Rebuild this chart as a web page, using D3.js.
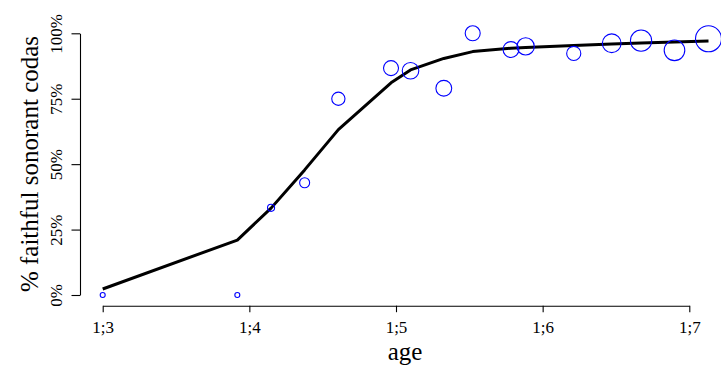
<!DOCTYPE html>
<html>
<head>
<meta charset="utf-8">
<script src="https://cdn.jsdelivr.net/npm/d3@7"></script>
<style>
  html, body { margin: 0; padding: 0; background: #fff; }
  svg { display: block; font-family: "Liberation Serif", "Times New Roman", serif; }
</style>
</head>
<body>
<svg id="chart" width="721" height="367"></svg>
<script>
// ---- data ----
// age in months (1;3 = 15 months -> stored as months past year 1)
const ageMonths = [3.00, 3.918, 4.148, 4.377, 4.607, 4.966, 5.099, 5.326, 5.523, 5.784, 5.884, 6.212, 6.471, 6.671, 6.899, 7.131];
const pctFaithful = [0, 0, 33.3, 42.9, 75, 86.7, 85.7, 79, 100, 93.8, 95, 92.3, 96.2, 97.2, 93.5, 97.9];
const tokens = [1, 1, 2, 4, 7, 9, 11, 10, 9, 10, 12, 8, 14, 18, 17, 27];
const fitted = [2.3, 21.0, 33.2, 47.8, 63.2, 81.1, 86.0, 90.4, 93.0, 94.3, 94.6, 95.3, 95.9, 96.3, 96.7, 97.1];
const xTicks = [3, 4, 5, 6, 7];
const xTickLabels = ["1;3", "1;4", "1;5", "1;6", "1;7"];
const yTicks = [0, 25, 50, 75, 100];
const yTickLabels = ["0%", "25%", "50%", "75%", "100%"];

const svg = d3.select("#chart");

const x = d3.scaleLinear().domain([3, 7]).range([102.7, 689.3]);
const y = d3.scaleLinear().domain([0, 100]).range([295, 33.3]);
const r = d3.scaleSqrt().domain([0, 27]).range([0, 13]);

// x axis
const xAxis = d3.axisBottom(x)
  .tickValues(xTicks)
  .tickFormat((d, i) => xTickLabels[i])
  .tickSizeOuter(0)
  .tickSizeInner(6.5);
const gx = svg.append("g").attr("transform", "translate(0,305.7)").call(xAxis);
gx.select(".domain").attr("stroke", "#000").attr("stroke-width", 1.1);
gx.selectAll(".tick line").attr("stroke", "#000").attr("stroke-width", 1.1);
gx.selectAll(".tick text")
  .attr("y", 27).attr("dy", 0)
  .attr("fill", "#000")
  .style("font-size", "17px")
  .style("font-family", "Liberation Serif, serif");

// y axis
const yAxis = d3.axisLeft(y)
  .tickValues(yTicks)
  .tickFormat((d, i) => yTickLabels[i])
  .tickSizeOuter(0)
  .tickSizeInner(8.5);
const gy = svg.append("g").attr("transform", "translate(80,0)").call(yAxis);
gy.select(".domain").attr("stroke", "#000").attr("stroke-width", 1.1);
gy.selectAll(".tick line").attr("stroke", "#000").attr("stroke-width", 1.1);
gy.selectAll(".tick text")
  .attr("x", null).attr("dy", null)
  .attr("transform", "translate(-18,0) rotate(-90)")
  .attr("text-anchor", "middle")
  .attr("fill", "#000")
  .style("font-size", "17px")
  .style("font-family", "Liberation Serif, serif");

// axis titles
svg.append("text")
  .attr("transform", "translate(38,164) rotate(-90)")
  .attr("text-anchor", "middle")
  .style("font-size", "25px")
  .text("% faithful sonorant codas");

svg.append("text")
  .attr("x", 405).attr("y", 360)
  .attr("text-anchor", "middle")
  .style("font-size", "25px")
  .text("age");

// fitted line
const pts = ageMonths.map((a, i) => [a, fitted[i]]);
svg.append("path")
  .datum(pts)
  .attr("fill", "none")
  .attr("stroke", "#000")
  .attr("stroke-width", 3)
  .attr("stroke-linejoin", "round")
  .attr("d", d3.line().x(d => x(d[0])).y(d => y(d[1])));

// observed points
svg.append("g").selectAll("circle")
  .data(ageMonths.map((a, i) => ({a, p: pctFaithful[i], n: tokens[i]})))
  .join("circle")
  .attr("cx", d => x(d.a))
  .attr("cy", d => y(d.p))
  .attr("r", d => r(d.n))
  .attr("fill", "none")
  .attr("stroke", "#0000ff")
  .attr("stroke-width", 1.1);
</script>
</body>
</html>
